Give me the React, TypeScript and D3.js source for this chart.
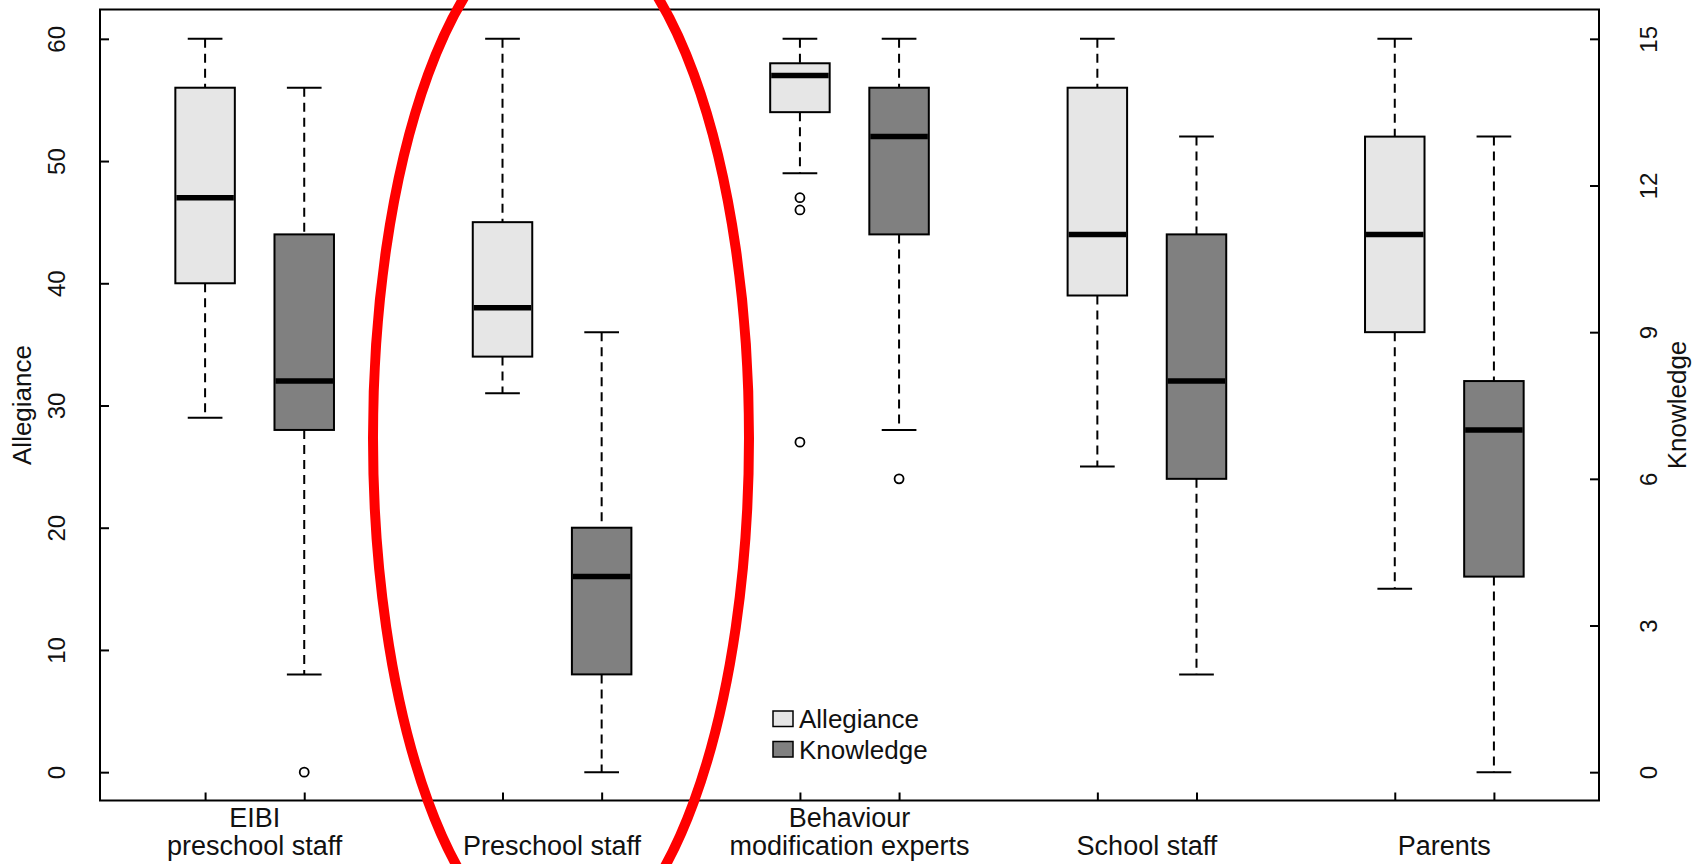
import React, { useEffect, useRef } from 'react';
import * as d3 from 'd3';

// groups shown on the x axis (two boxes each)
const groups = ['EIBI\npreschool staff', 'Preschool staff', 'Behaviour\nmodification experts', 'School staff', 'Parents'];

// allegiance scores (0-60): lower whisker, Q1, median, Q3, upper whisker
const allegianceLow = [29, 31, 49, 25, 15];
const allegianceQ1 = [40, 34, 54, 39, 36];
const allegianceMedian = [47, 38, 57, 44, 44];
const allegianceQ3 = [56, 45, 58, 56, 52];
const allegianceHigh = [60, 60, 60, 60, 60];
const allegianceOutliers = [[], [], [47, 46, 27], [], []];

// knowledge scores (0-15)
const knowledgeLow = [2, 0, 7, 2, 0];
const knowledgeQ1 = [7, 2, 11, 6, 4];
const knowledgeMedian = [8, 4, 13, 8, 7];
const knowledgeQ3 = [11, 5, 14, 11, 8];
const knowledgeHigh = [14, 9, 15, 13, 13];
const knowledgeOutliers = [[0], [], [6], [], []];

const allegianceTicks = [0, 10, 20, 30, 40, 50, 60];
const knowledgeTicks = [0, 3, 6, 9, 12, 15];

const W = 1694;
const H = 864;
const FONT = '"Liberation Sans", Arial, Helvetica, sans-serif';

export default function App() {
  const svgRef = useRef(null);

  useEffect(() => {
    document.body.style.margin = '0';
    const svg = d3.select(svgRef.current);
    svg.selectAll('*').remove();

    const left = 100, right = 1599, top = 9.5, bottom = 800.5;

    const x = d3.scaleLinear().domain([-0.06, 15.06]).range([left, right]);
    const yA = d3.scaleLinear().domain([-2.4, 62.4]).range([801.5, 9.5]);
    const yK = d3.scaleLinear().domain([-0.6, 15.6]).range([801.5, 9.5]);

    const boxW = x(0.3) - x(0);
    const capW = x(0.175) - x(0);

    const series = [
      { scale: yA, fill: '#e6e6e6', offset: 1, low: allegianceLow, q1: allegianceQ1, med: allegianceMedian, q3: allegianceQ3, high: allegianceHigh, out: allegianceOutliers },
      { scale: yK, fill: '#808080', offset: 2, low: knowledgeLow, q1: knowledgeQ1, med: knowledgeMedian, q3: knowledgeQ3, high: knowledgeHigh, out: knowledgeOutliers },
    ];

    const positions = [];

    series.forEach(s => {
      groups.forEach((g, i) => {
        const pos = i * 3 + s.offset;
        positions.push(pos);
        const cx = x(pos);
        const y = s.scale;
        const gBox = svg.append('g');

        // whiskers
        gBox.append('line')
          .attr('x1', cx).attr('x2', cx)
          .attr('y1', y(s.high[i])).attr('y2', y(s.q3[i]))
          .attr('stroke', '#000').attr('stroke-width', 2).attr('stroke-dasharray', '9,6');
        gBox.append('line')
          .attr('x1', cx).attr('x2', cx)
          .attr('y1', y(s.q1[i])).attr('y2', y(s.low[i]))
          .attr('stroke', '#000').attr('stroke-width', 2).attr('stroke-dasharray', '9,6');
        [s.high[i], s.low[i]].forEach(v => {
          gBox.append('line')
            .attr('x1', cx - capW).attr('x2', cx + capW)
            .attr('y1', y(v)).attr('y2', y(v))
            .attr('stroke', '#000').attr('stroke-width', 2);
        });

        // box
        gBox.append('rect')
          .attr('x', cx - boxW).attr('width', boxW * 2)
          .attr('y', y(s.q3[i])).attr('height', y(s.q1[i]) - y(s.q3[i]))
          .attr('fill', s.fill).attr('stroke', '#000').attr('stroke-width', 2);
        gBox.append('line')
          .attr('x1', cx - boxW + 1).attr('x2', cx + boxW - 1)
          .attr('y1', y(s.med[i])).attr('y2', y(s.med[i]))
          .attr('stroke', '#000').attr('stroke-width', 5.5);

        // outliers
        s.out[i].forEach(v => {
          gBox.append('circle')
            .attr('cx', cx).attr('cy', y(v)).attr('r', 4.5)
            .attr('fill', 'none').attr('stroke', '#000').attr('stroke-width', 1.8);
        });
      });
    });

    // frame
    svg.append('rect')
      .attr('x', left).attr('y', top)
      .attr('width', right - left).attr('height', bottom - top)
      .attr('fill', 'none').attr('stroke', '#000').attr('stroke-width', 2);

    // left axis
    const axL = svg.append('g')
      .attr('transform', `translate(${left},0)`)
      .call(d3.axisLeft(yA).tickValues(allegianceTicks).tickSizeInner(-9).tickSizeOuter(0));
    axL.select('.domain').remove();
    axL.selectAll('line').attr('stroke', '#000').attr('stroke-width', 2);
    axL.selectAll('text')
      .attr('x', 0).attr('dy', 0)
      .attr('transform', 'translate(-35,0) rotate(-90)')
      .attr('text-anchor', 'middle')
      .attr('fill', '#111')
      .style('font', `24px ${FONT}`);

    // right axis
    const axR = svg.append('g')
      .attr('transform', `translate(${right},0)`)
      .call(d3.axisRight(yK).tickValues(knowledgeTicks).tickSizeInner(-9).tickSizeOuter(0));
    axR.select('.domain').remove();
    axR.selectAll('line').attr('stroke', '#000').attr('stroke-width', 2);
    axR.selectAll('text')
      .attr('x', 0).attr('dy', 0)
      .attr('transform', 'translate(58,0) rotate(-90)')
      .attr('text-anchor', 'middle')
      .attr('fill', '#111')
      .style('font', `24px ${FONT}`);

    // bottom axis ticks
    const axB = svg.append('g')
      .attr('transform', `translate(0,${bottom})`)
      .call(d3.axisBottom(x).tickValues(positions).tickSizeInner(-8).tickSizeOuter(0).tickFormat(() => ''));
    axB.select('.domain').remove();
    axB.selectAll('line').attr('stroke', '#000').attr('stroke-width', 2);

    // group labels
    groups.forEach((g, i) => {
      const cx = x(i * 3 + 1.5);
      const lines = g.split('\n');
      lines.forEach((ln, j) => {
        svg.append('text')
          .attr('x', cx)
          .attr('y', 855 - (lines.length - 1 - j) * 28)
          .attr('text-anchor', 'middle')
          .attr('fill', '#111')
          .style('font', `27px ${FONT}`)
          .text(ln);
      });
    });

    // axis titles
    svg.append('text')
      .attr('transform', `translate(31,${(top + bottom) / 2}) rotate(-90)`)
      .attr('text-anchor', 'middle')
      .attr('fill', '#111')
      .style('font', `26px ${FONT}`)
      .text('Allegiance');
    svg.append('text')
      .attr('transform', `translate(1686,${(top + bottom) / 2}) rotate(-90)`)
      .attr('text-anchor', 'middle')
      .attr('fill', '#111')
      .style('font', `26px ${FONT}`)
      .text('Knowledge');

    // legend
    const legend = svg.append('g').attr('transform', 'translate(773,711)');
    ['Allegiance', 'Knowledge'].forEach((name, i) => {
      legend.append('rect')
        .attr('x', 0).attr('y', i * 30.5)
        .attr('width', 20).attr('height', 15.5)
        .attr('fill', series[i].fill).attr('stroke', '#000').attr('stroke-width', 1.5);
      legend.append('text')
        .attr('x', 26).attr('y', i * 30.5 + 17)
        .attr('fill', '#111')
        .style('font', `26px ${FONT}`)
        .text(name);
    });

    // red highlight ellipse
    svg.append('ellipse')
      .attr('cx', 561).attr('cy', 438)
      .attr('rx', 188).attr('ry', 514)
      .attr('fill', 'none').attr('stroke', '#ff0000').attr('stroke-width', 10);
  }, []);

  return (
    <svg ref={svgRef} width={W} height={H} style={{ display: 'block', background: '#fff' }}></svg>
  );
}
